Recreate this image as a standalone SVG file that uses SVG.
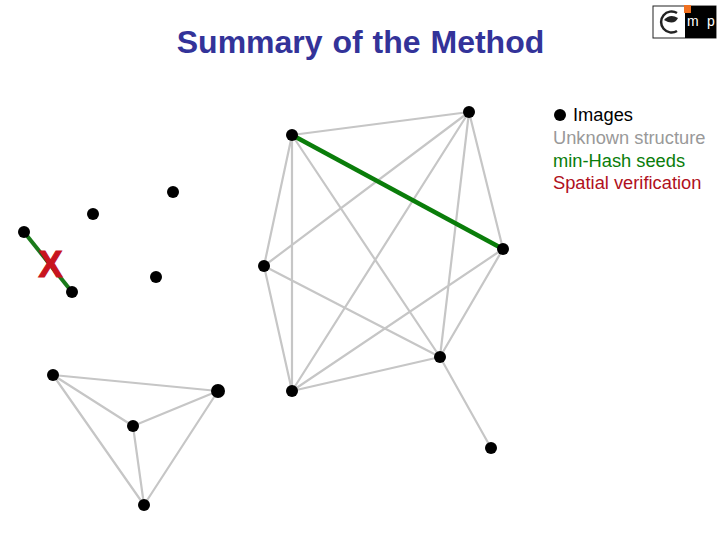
<svg xmlns="http://www.w3.org/2000/svg" width="720" height="540" viewBox="0 0 720 540">
<style>
text{font-family:"Liberation Sans",Arial,sans-serif}
.e{stroke:#c6c6c6;stroke-width:2.2;fill:none;stroke-linecap:round}
.n{fill:#000}
.l{font-size:18.300px}
</style>
<rect width="720" height="540" fill="#fff"/>
<text x="360.500" y="53" text-anchor="middle" font-size="32" font-weight="bold" fill="#333399" word-spacing="1">Summary of the Method</text>
<g id="logo">
<rect x="653" y="6" width="63" height="32" fill="#fff" stroke="#222" stroke-width="1"/>
<rect x="685" y="6" width="31" height="32" fill="#000"/>
<rect x="684" y="5" width="7" height="8" fill="#f07020"/>
<path d="M677 13A10.500 10.500 0 1 0 677 31" fill="none" stroke="#222" stroke-width="2.500"/>
<path d="M664 20Q670 13 678 18Q674 26 664 20Z" fill="#222"/>
<text x="687" y="26" font-size="14" fill="#fff">m</text>
<text x="707" y="26" font-size="14" fill="#fff">p</text>
</g>
<g id="connectors">
<path class="e" d="M292 135L469 112M292 135L264 266M292 135L292 391M292 135L440 357M469 112L264 266M469 112L292 391M469 112L440 357M469 112L503 249M503 249L440 357M503 249L292 391M264 266L440 357M264 266L292 391M292 391L440 357M440 357L491 448M53 375L218 391M53 375L133 426M53 375L144 505M218 391L133 426M218 391L144 505M133 426L144 505"/>
<path d="M292 135L503 249" stroke="#0a7d0a" stroke-width="4.500" fill="none"/>
<path d="M24 232L72 292" stroke="#1a7a1a" stroke-width="4" fill="none"/>
</g>
<g id="x-mark"><text x="50.500" y="276.500" text-anchor="middle" font-size="36" font-weight="bold" fill="#c8141e" stroke="#c8141e" stroke-width="1.200">X</text></g>
<g id="nodes">
<circle id="n1" class="n" cx="292" cy="135" r="6"/>
<circle id="n2" class="n" cx="469" cy="112" r="6"/>
<circle id="n3" class="n" cx="503" cy="249" r="6"/>
<circle id="n4" class="n" cx="264" cy="266" r="6"/>
<circle id="n5" class="n" cx="440" cy="357" r="6"/>
<circle id="n6" class="n" cx="292" cy="391" r="6"/>
<circle id="n7" class="n" cx="491" cy="448" r="6"/>
<circle id="n8" class="n" cx="173" cy="192" r="6"/>
<circle id="n9" class="n" cx="93" cy="214" r="6"/>
<circle id="n10" class="n" cx="156" cy="277" r="6"/>
<circle id="n11" class="n" cx="24" cy="232" r="6"/>
<circle id="n12" class="n" cx="72" cy="292" r="6"/>
<circle id="n13" class="n" cx="53" cy="375" r="6"/>
<circle id="n14" class="n" cx="218" cy="391" r="7"/>
<circle id="n15" class="n" cx="133" cy="426" r="6"/>
<circle id="n16" class="n" cx="144" cy="505" r="6"/>
</g>
<g id="legend">
<circle class="n" cx="560" cy="115" r="6"/>
<text class="l" x="573" y="121" fill="#000">Images</text>
<text class="l" x="553" y="144" fill="#999">Unknown structure</text>
<text class="l" x="553" y="167" fill="#0a7d0a">min-Hash seeds</text>
<text class="l" x="553" y="189" fill="#b01020">Spatial verification</text>
</g>
</svg>
